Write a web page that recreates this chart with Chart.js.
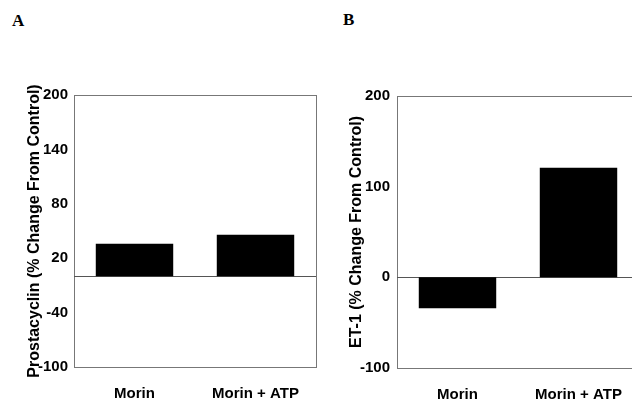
<!DOCTYPE html>
<html>
<head>
<meta charset="utf-8">
<script src="https://cdn.jsdelivr.net/npm/chart.js@4.4.0/dist/chart.umd.min.js"></script>
<style>
    html, body { margin: 0; padding: 0; background: #fff; overflow: hidden; }
    #wrap { position: relative; width: 632px; height: 402px; overflow: hidden; }
    .panel-label { position: absolute; font-family: "Liberation Serif", serif; font-weight: bold; font-size: 17px; color: #000; }
    #boxA { position: absolute; left: 0; top: 0; width: 325px; height: 402px; }
    #boxB { position: absolute; left: 325px; top: 0; width: 335px; height: 402px; }
</style>
</head>
<body>
<div id="wrap">
    <div class="panel-label" style="left:12px; top:11px;">A</div>
    <div class="panel-label" style="left:343px; top:10px;">B</div>
    <div id="boxA"><canvas id="chartA"></canvas></div>
    <div id="boxB"><canvas id="chartB"></canvas></div>
</div>
<script>
const categories = ['Morin', 'Morin + ATP'];
const prostacyclinValues = [36, 46];
const et1Values = [-34, 121];
const prostacyclinTicks = [-100, -40, 20, 80, 140, 200];
const et1Ticks = [-100, 0, 100, 200];

Chart.defaults.font.family = "'Liberation Sans', Arial, sans-serif";
Chart.defaults.color = "#000";

// frame round the plot area plus the zero line
const framePlugin = {
    id: 'frame',
    beforeDatasetsDraw(chart) {
        const a = chart.chartArea;
        const c = chart.ctx;
        const y0 = chart.scales.y.getPixelForValue(0);
        c.save();
        c.lineWidth = 1;
        c.strokeStyle = "#777";
        c.strokeRect(a.left + 0.5, a.top + 0.5, a.right - a.left, a.bottom - a.top);
        c.strokeStyle = "#555";
        c.beginPath();
        c.moveTo(a.left, Math.round(y0) + 0.5);
        c.lineTo(a.right, Math.round(y0) + 0.5);
        c.stroke();
        c.restore();
    }
};

function makeChart(id, values, tickList, title, opts) {
    return new Chart(document.getElementById(id), {
        type: 'bar',
        data: {
            labels: categories,
            datasets: [
                {
                    data: values,
                    backgroundColor: "#000",
                    borderWidth: 0,
                    barPercentage: 0.64,
                    categoryPercentage: 1
                }
            ]
        },
        options: {
            responsive: true,
            maintainAspectRatio: false,
            animation: false,
            layout: {
                padding: { top: opts.top, right: opts.right, bottom: 0, left: 0 }
            },
            scales: {
                x: {
                    grid: { display: false, drawTicks: false },
                    border: { display: false },
                    ticks: {
                        padding: 18,
                        font: { size: 15, weight: 'bold' }
                    },
                    afterFit: (s) => { s.height = opts.xHeight; }
                },
                y: {
                    min: -100,
                    max: 200,
                    grid: { display: false, drawTicks: false },
                    border: { display: false },
                    afterBuildTicks: (s) => { s.ticks = tickList.map(v => ({ value: v })); },
                    afterFit: (s) => { s.width = opts.yWidth; },
                    ticks: {
                        padding: opts.tickPad,
                        font: { size: 15, weight: 'bold' }
                    },
                    title: {
                        display: true,
                        text: title,
                        font: { size: 16, weight: 'bold' },
                        padding: { top: opts.titlePad, bottom: 0 }
                    }
                }
            },
            plugins: {
                legend: { display: false },
                tooltip: { enabled: false }
            }
        },
        plugins: [framePlugin]
    });
}

makeChart('chartA', prostacyclinValues, prostacyclinTicks, 'Prostacyclin (% Change From Control)',
    { top: 95, right: 9, xHeight: 35, yWidth: 74, titlePad: 25, tickPad: 6 });

makeChart('chartB', et1Values, et1Ticks, 'ET-1 (% Change From Control)',
    { top: 96, right: 21, xHeight: 34, yWidth: 72, titlePad: 22, tickPad: 7 });
</script>
</body>
</html>
